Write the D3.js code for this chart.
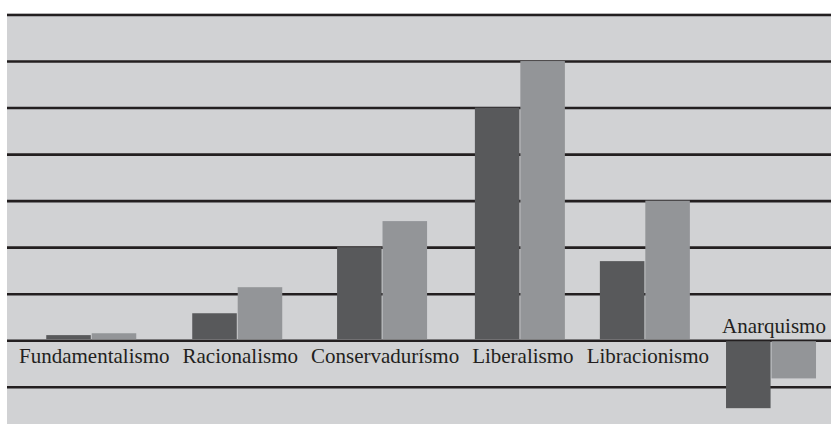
<!DOCTYPE html>
<html>
<head>
<meta charset="utf-8">
<script src="https://cdn.jsdelivr.net/npm/d3@7"></script>
<style>
  html, body { margin: 0; padding: 0; background: #ffffff; }
  svg { display: block; }
  .lbl { font-family: "Liberation Serif", "Times New Roman", serif; }
</style>
</head>
<body>
<svg id="chart" width="831" height="425"></svg>
<script>
const categories = ["Fundamentalismo", "Racionalismo", "Conservadurísmo", "Liberalismo", "Libracionismo", "Anarquismo"];
const seriesNames = ["Serie 1", "Serie 2"];
const series1 = [0.11, 0.58, 2.0, 5.0, 1.7, -1.46];
const series2 = [0.15, 1.14, 2.56, 6.0, 3.0, -0.82];
const gridTicks = [-1, 0, 1, 2, 3, 4, 5, 6, 7];

const colors = ["#58595b", "#939598"];

(function () {
const svg = d3.select("#chart");
const mLeft = 7, mRight = 831, mTop = 14.5, mBottom = 424;
const labelStart = 19, labelGap = 13, groupWidth = 90;

const y = d3.scaleLinear().domain([-1.8, 7]).range([mBottom, mTop]);

svg.append("rect")
  .attr("x", mLeft).attr("y", mTop - 1)
  .attr("width", mRight - mLeft).attr("height", mBottom - mTop + 1)
  .attr("fill", "#d1d2d4");

const gAxis = svg.append("g")
  .attr("transform", `translate(${mLeft},0)`)
  .call(d3.axisRight(y).tickValues(gridTicks).tickSize(mRight - mLeft).tickFormat(""));
gAxis.select(".domain").remove();
gAxis.selectAll(".tick line")
  .attr("stroke", "#231f20")
  .attr("stroke-width", 2.6);

const barsG = svg.append("g");
const labelsG = svg.append("g");

const data = categories.map((c, i) => ({ cat: c, vals: [series1[i], series2[i]] }));

// labels first (measured; the category layout follows the label widths)
const labels = labelsG.selectAll("text")
  .data(data).join("text")
  .attr("class", "lbl")
  .attr("text-anchor", "middle")
  .attr("font-size", 21)
  .attr("fill", "#231f20")
  .text(d => d.cat);

const centers = [];
let cursor = labelStart;
labels.each(function () {
  const w = this.getComputedTextLength();
  centers.push(cursor + w / 2);
  cursor += w + labelGap;
});
const x = d3.scaleOrdinal().domain(categories).range(centers);
const xs = d3.scaleBand().domain(seriesNames).range([-groupWidth / 2, groupWidth / 2]).paddingInner(0.02);

labels
  .attr("x", d => x(d.cat))
  .attr("y", d => (d.vals[0] < 0 ? y(0) - 7 : y(0) + 23));

const groups = barsG.selectAll("g")
  .data(data).join("g")
  .attr("transform", d => `translate(${x(d.cat) - 3},0)`);

groups.selectAll("rect")
  .data(d => d.vals.map((v, j) => ({ v, s: seriesNames[j], j })))
  .join("rect")
  .attr("x", d => xs(d.s))
  .attr("width", xs.bandwidth())
  .attr("y", d => d.v >= 0 ? y(d.v) : y(0) + 1)
  .attr("height", d => d.v >= 0 ? y(0) - y(d.v) - 1 : y(d.v) - y(0) - 1)
  .attr("fill", d => colors[d.j]);
})();
</script>
</body>
</html>
